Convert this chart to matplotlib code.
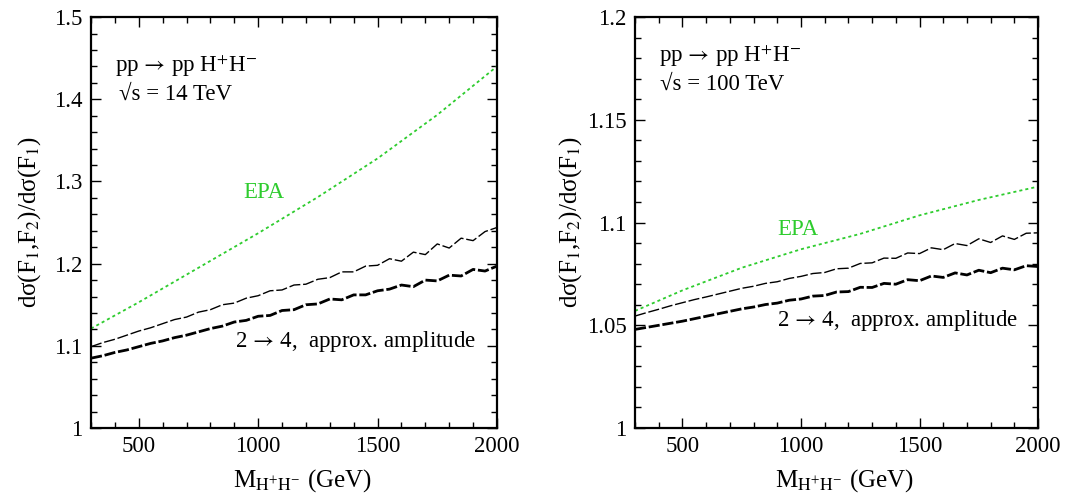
import matplotlib
matplotlib.use('Agg')
import matplotlib.pyplot as plt
from matplotlib.ticker import MultipleLocator, FuncFormatter

plt.rcParams['font.family'] = ['Liberation Serif', 'DejaVu Serif']
plt.rcParams['mathtext.fontset'] = 'stix'
plt.rcParams['lines.scale_dashes'] = False

# ---- data ----
mass = [300, 350, 400, 450, 500, 550, 600, 650, 700, 750, 800, 850, 900, 950,
        1000, 1050, 1100, 1150, 1200, 1250, 1300, 1350, 1400, 1450, 1500, 1550,
        1600, 1650, 1700, 1750, 1800, 1850, 1900, 1950, 2000]

epa_mass = [300, 500, 750, 1000, 1250, 1500, 1750, 2000]
epa_14 = [1.121, 1.153, 1.195, 1.237, 1.281, 1.328, 1.381, 1.440]
epa_100 = [1.057, 1.067, 1.078, 1.087, 1.0945, 1.1035, 1.111, 1.1175]

# thin dashed curve, 14 TeV
thin_14 = [1.099, 1.104, 1.108, 1.113, 1.118, 1.122, 1.127, 1.132, 1.135, 1.141,
           1.144, 1.150, 1.152, 1.158, 1.161, 1.167, 1.168, 1.174, 1.175, 1.181,
           1.183, 1.190, 1.190, 1.197, 1.198, 1.206, 1.203, 1.214, 1.211, 1.224,
           1.219, 1.231, 1.228, 1.239, 1.244]
# thick dashed curve, 14 TeV
thick_14 = [1.085, 1.088, 1.092, 1.095, 1.099, 1.103, 1.106, 1.110, 1.113, 1.117,
            1.121, 1.124, 1.129, 1.131, 1.136, 1.137, 1.143, 1.144, 1.150, 1.151,
            1.157, 1.156, 1.162, 1.162, 1.167, 1.169, 1.174, 1.172, 1.180, 1.179,
            1.186, 1.185, 1.193, 1.191, 1.197]
# thin dashed curve, 100 TeV
thin_100 = [1.0545, 1.0562, 1.0578, 1.0595, 1.0610, 1.0625, 1.0638, 1.0652, 1.0666,
            1.0680, 1.0690, 1.0704, 1.0712, 1.0728, 1.0738, 1.0752, 1.0757, 1.0775,
            1.0778, 1.0801, 1.0804, 1.0827, 1.0826, 1.0852, 1.0849, 1.0877, 1.0868,
            1.0898, 1.0888, 1.0921, 1.0903, 1.0935, 1.0918, 1.0948, 1.0950]
# thick dashed curve, 100 TeV
thick_100 = [1.0480, 1.0490, 1.0500, 1.0510, 1.0520, 1.0532, 1.0544, 1.0556, 1.0568,
             1.0580, 1.0589, 1.0601, 1.0608, 1.0622, 1.0628, 1.0642, 1.0645, 1.0662,
             1.0664, 1.0685, 1.0684, 1.0704, 1.0700, 1.0722, 1.0717, 1.0740, 1.0733,
             1.0755, 1.0745, 1.0768, 1.0756, 1.0778, 1.0770, 1.0790, 1.0786]

GREEN = '#2ecc2e'

panels = [
    dict(epa=epa_14, thin=thin_14, thick=thick_14,
         ylim=(1.0, 1.5), major=0.1, minor=0.02, energy='14',
         pos=[0.0841, 0.137, 0.3752, 0.8286], ylab_x=-0.118,
         proc=(0.060, 0.866), sq=(0.068, 0.798), epa_lbl=(0.374, 0.56),
         amp=(0.355, 0.197)),
    dict(epa=epa_100, thin=thin_100, thick=thick_100,
         ylim=(1.0, 1.2), major=0.05, minor=0.01, energy='100',
         pos=[0.5869, 0.137, 0.3725, 0.8286], ylab_x=-0.127,
         proc=(0.060, 0.89), sq=(0.062, 0.822), epa_lbl=(0.352, 0.47),
         amp=(0.352, 0.248)),
]

fig = plt.figure(figsize=(10.82, 4.96), dpi=100)

for p in panels:
    ax = fig.add_axes(p['pos'])
    ax.plot(epa_mass, p['epa'], color=GREEN, lw=1.3, dashes=(2.2, 2.2))
    ax.plot(mass, p['thin'], color='black', lw=1.0, dashes=(8, 2))
    ax.plot(mass, p['thick'], color='black', lw=2.0, dashes=(8, 2))

    ax.set_xlim(300, 2000)
    ax.set_ylim(*p['ylim'])
    ax.xaxis.set_major_locator(MultipleLocator(500))
    ax.xaxis.set_minor_locator(MultipleLocator(100))
    ax.yaxis.set_major_locator(MultipleLocator(p['major']))
    ax.yaxis.set_minor_locator(MultipleLocator(p['minor']))
    ax.yaxis.set_major_formatter(FuncFormatter(lambda v, _: '%g' % round(v, 4)))
    ax.tick_params(which='both', direction='in', top=True, right=True,
                   labelsize=16.5, width=1.0)
    ax.tick_params(which='major', length=7, pad=6)
    ax.tick_params(which='minor', length=4)
    for s in ax.spines.values():
        s.set_linewidth(1.6)

    ax.set_xlabel(r'M$_{\mathrm{H^{+}H^{-}}}$ (GeV)', fontsize=18)
    ax.xaxis.set_label_coords(0.52, -0.095)
    ax.set_ylabel('dσ(F$_1$,F$_2$)/dσ(F$_1$)', fontsize=18)
    ax.yaxis.set_label_coords(p['ylab_x'], 0.5)

    ax.text(*p['proc'], r'pp$\,\rightarrow\,$pp H$^{+}$H$^{-}$',
            transform=ax.transAxes, fontsize=16.5, va='baseline')
    ax.text(*p['sq'], '√s = %s TeV' % p['energy'],
            transform=ax.transAxes, fontsize=16.5, va='baseline')
    ax.text(*p['epa_lbl'], 'EPA', color=GREEN, transform=ax.transAxes,
            fontsize=16.5, va='baseline')
    ax.text(*p['amp'], r'2$\,\rightarrow\,$4,  approx. amplitude',
            transform=ax.transAxes, fontsize=16.5, va='baseline')

fig.savefig('out.png', dpi=100)
